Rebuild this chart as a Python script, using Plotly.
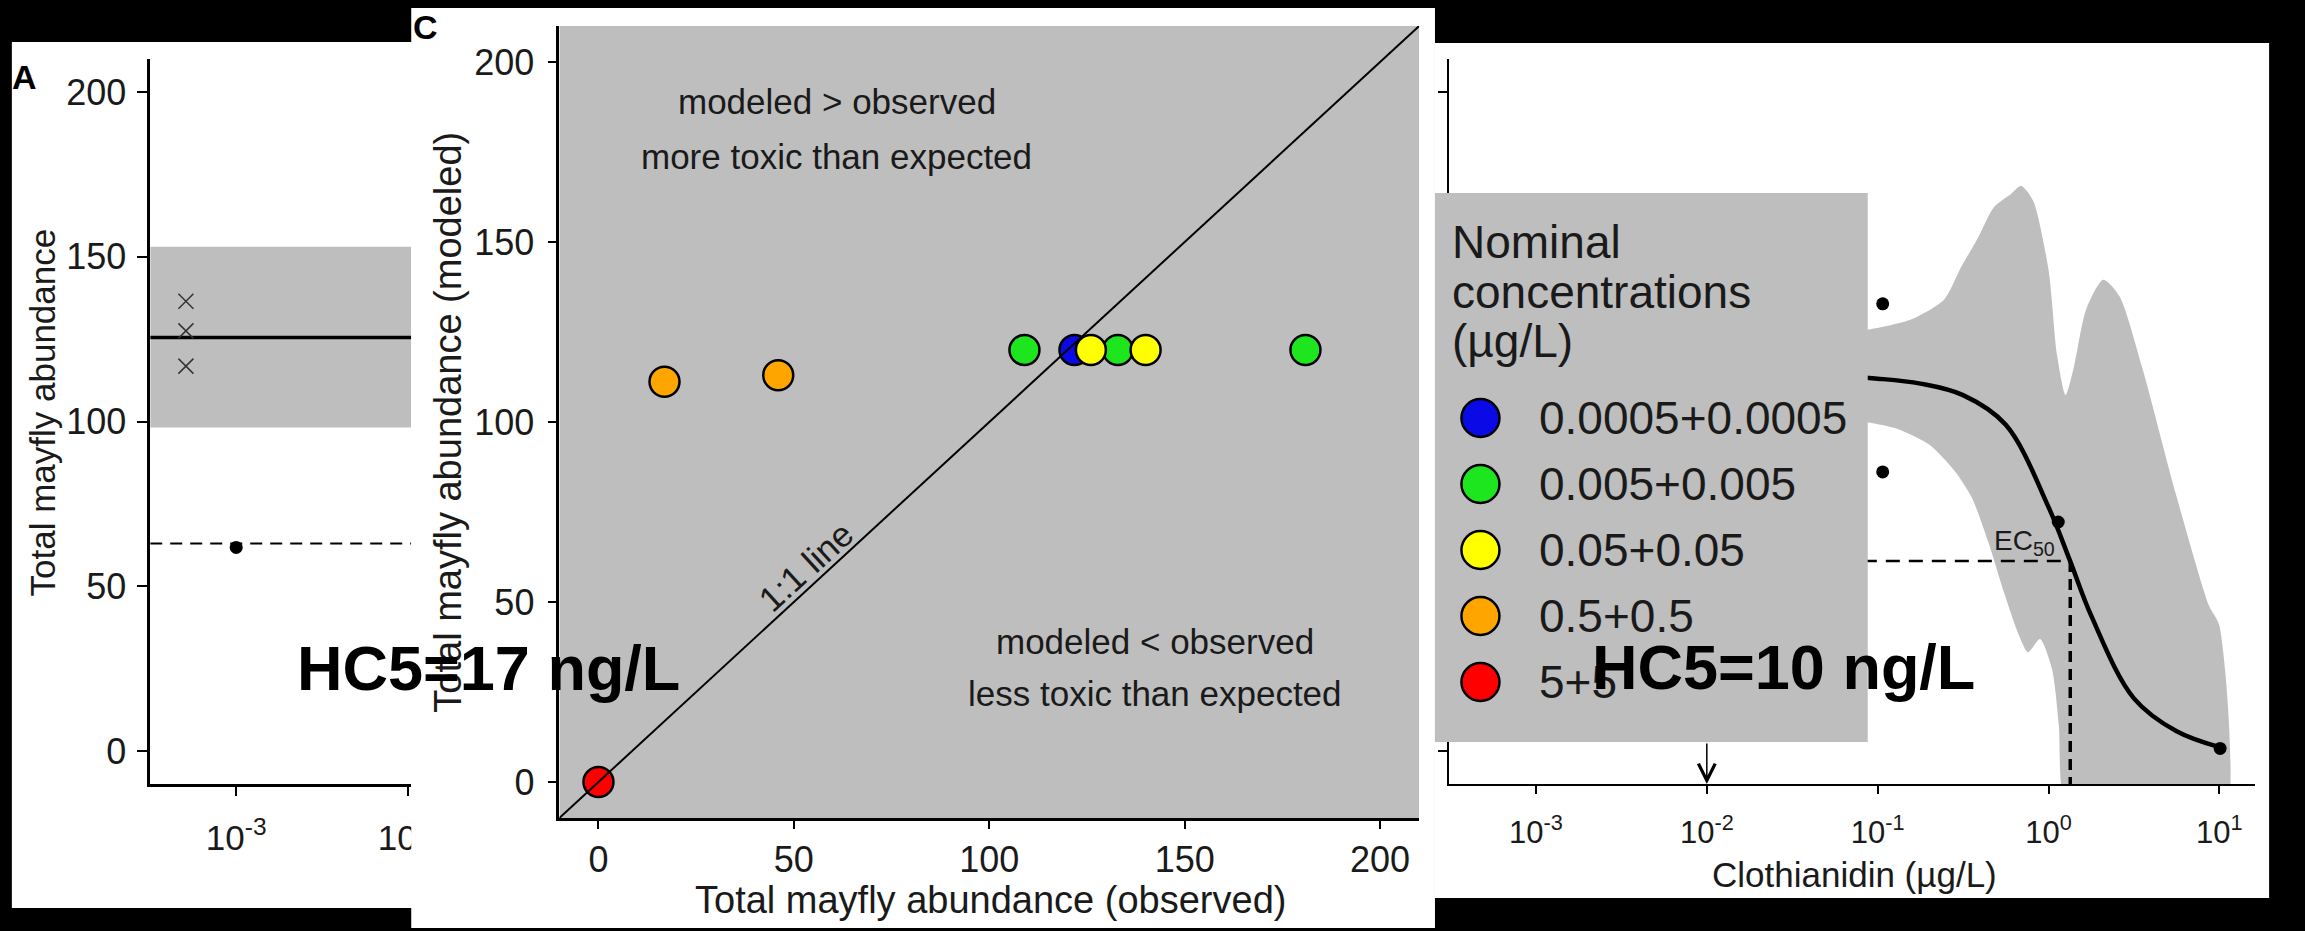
import plotly.graph_objects as go

W, H = 2305, 931
FONT = "Liberation Sans, Arial, Helvetica, sans-serif"
INK = "#1a1a1a"
GRAY = "#bebebe"

# ---------------- data ----------------
# Panel A (left, mostly hidden)
a_ctrl_x = [0.00051, 0.00051, 0.00051]
a_ctrl_y = [136.5, 127.5, 116.8]
a_ctrl_mean = 125.5
a_ctrl_lo = 98.2
a_ctrl_hi = 153.0
a_obs_x = [0.001]
a_obs_y = [61.8]
a_ec50_y = 63.0
a_tickvals = [0.001, 0.01]
a_ticktext = ["10<sup>-3</sup>", "10<sup>-2</sup>"]
y_ticks = [0, 50, 100, 150, 200]
y_range = [-10, 210]

# Panel C (observed vs modeled)
legend_labels = ["0.0005+0.0005", "0.005+0.005", "0.05+0.05", "0.5+0.5", "5+5"]
legend_colors = ["#0a0ae6", "#1ee61e", "#ffff00", "#ffa500", "#ff0000"]
obs_g1 = [121.8]
mod_g1 = [120.0]
obs_g2 = [109.0, 132.9, 180.9]
mod_g2 = [120.0, 120.0, 120.0]
obs_g3 = [126.0, 140.0]
mod_g3 = [120.0, 120.0]
obs_g4 = [16.9, 46.0]
mod_g4 = [111.2, 113.0]
obs_g5 = [0.0]
mod_g5 = [0.0]
c_ticks = [0, 50, 100, 150, 200]
c_range = [-10, 210]
one_to_one = [-10, 210]

# Panel B (clothianidin)
b_obs_x = [0.107, 0.107, 1.14, 10.1]
b_obs_y = [135.7, 84.7, 69.5, 0.8]
b_fit_x = [0.000316, 0.001, 0.00316, 0.01, 0.0316, 0.1, 0.178, 0.316, 0.562, 1.0, 1.33, 1.78, 3.16, 5.62, 10.0]
b_fit_y = [115, 115, 115, 114.8, 114.4, 113, 111.5, 108, 99, 74, 58, 41, 16, 6, 1.2]
b_up_x = [0.000316, 0.00316, 0.0316, 0.0813, 0.158, 0.245, 0.309, 0.389, 0.479, 0.603, 0.692, 0.813,
          1.0, 1.122, 1.259, 1.40, 1.66, 2.09, 2.60, 3.55, 5.56, 8.71, 10.0]
b_up_y = [124, 124, 125, 127.5, 131, 137, 147, 156, 165, 169, 171.5, 167,
          146, 120, 108, 116, 134, 143, 138, 116, 78, 44, 38]
b_lo_x = [0.000316, 0.00316, 0.0316, 0.0813, 0.126, 0.2, 0.282, 0.355, 0.447, 0.55, 0.661, 0.759,
          0.891, 1.047, 1.148, 1.23, 2.0, 10.0]
b_lo_y = [103, 103, 102.5, 100, 98, 93, 85, 77, 63, 48, 36, 30,
          34, 25, 8, -15, -30, -30]
b_ec50_x = 1.34
b_ec50_y = 57.7
b_hc5_x = 0.01
b_tickvals = [0.001, 0.01, 0.1, 1, 10]
b_ticktext = ["10<sup>-3</sup>", "10<sup>-2</sup>", "10<sup>-1</sup>", "10<sup>0</sup>", "10<sup>1</sup>"]

# ---------------- geometry (pixels) ----------------
def fx(px):
    return px / W

def fy(py):
    return 1 - py / H

A_X = (152, 416)
A_Y = (59, 784)
A_XR = [-3.5, -3 + (416 - 239) / 174]
CP = (416, 1452, 8, 928)          # white panel of C
C_X = (566, 1436)
C_Y = (26, 818)
B_X = (1466, 2282)
B_Y = (59, 784)
B_XR = [-3.51, 1.21]
LEG = (1452, 1890, 193, 742)
LEG_X0 = 1498                      # legend key centre
LEG_Y0 = 418                       # first key centre
LEG_DY = 66                        # spacing between keys

fig = go.Figure()

# ---------- Panel A ----------
ax_lo, ax_hi = 10 ** A_XR[0], 10 ** (A_XR[1] + 0.5)
fig.add_trace(go.Scatter(x=[ax_lo, ax_hi, ax_hi, ax_lo], y=[a_ctrl_lo, a_ctrl_lo, a_ctrl_hi, a_ctrl_hi],
                         fill="toself", fillcolor=GRAY, line=dict(width=0), mode="lines",
                         hoverinfo="skip", xaxis="x", yaxis="y"))
fig.add_trace(go.Scatter(x=[ax_lo, ax_hi], y=[a_ctrl_mean, a_ctrl_mean], mode="lines",
                         line=dict(color="black", width=3.5), xaxis="x", yaxis="y"))
fig.add_trace(go.Scatter(x=[ax_lo, ax_hi], y=[a_ec50_y, a_ec50_y], mode="lines",
                         line=dict(color="black", width=2, dash="12px,8px"), xaxis="x", yaxis="y"))
fig.add_trace(go.Scatter(x=a_ctrl_x, y=a_ctrl_y, mode="markers",
                         marker=dict(symbol="x-thin", size=15, line=dict(color="#333333", width=1.5)),
                         xaxis="x", yaxis="y"))
fig.add_trace(go.Scatter(x=a_obs_x, y=a_obs_y, mode="markers",
                         marker=dict(color="black", size=13), xaxis="x", yaxis="y"))
# x title of panel A (only its first letter shows beside panel C)
a_title_x = 10 ** (-3 + (401 - 239) / 174)
a_title_y = (751 - 874) / ((784 - 59) / 220)
fig.add_trace(go.Scatter(x=[a_title_x], y=[a_title_y], mode="text", text=["Imidacloprid (µg/L)"],
                         textposition="middle right", cliponaxis=False,
                         textfont=dict(family=FONT, size=36, color=INK), xaxis="x", yaxis="y"))

# ---------- dummy subplot: white panel of C (covers A) ----------
fig.add_trace(go.Scatter(x=[0.5], y=[0.5], mode="markers", marker=dict(opacity=0),
                         hoverinfo="skip", xaxis="x2", yaxis="y2"))

# ---------- Panel C ----------
groups = [(obs_g1, mod_g1), (obs_g2, mod_g2), (obs_g3, mod_g3), (obs_g4, mod_g4), (obs_g5, mod_g5)]
for (o, m), col in zip(groups, legend_colors):
    fig.add_trace(go.Scatter(x=o, y=m, mode="markers",
                             marker=dict(color=col, size=30, line=dict(color="black", width=2.5)),
                             xaxis="x3", yaxis="y3"))
fig.add_trace(go.Scatter(x=one_to_one, y=one_to_one, mode="lines",
                         line=dict(color="black", width=2), xaxis="x3", yaxis="y3"))

# ---------- Panel B ----------
fig.add_trace(go.Scatter(x=b_up_x + b_lo_x[::-1], y=b_up_y + b_lo_y[::-1], fill="toself",
                         fillcolor=GRAY, line=dict(width=0, shape="spline", smoothing=0.7),
                         mode="lines", hoverinfo="skip", xaxis="x4", yaxis="y4"))
fig.add_trace(go.Scatter(x=[10 ** B_XR[0], b_ec50_x], y=[b_ec50_y, b_ec50_y], mode="lines",
                         line=dict(color="black", width=2.5, dash="14px,9px"), xaxis="x4", yaxis="y4"))
fig.add_trace(go.Scatter(x=[b_ec50_x, b_ec50_x], y=[b_ec50_y, y_range[0]], mode="lines",
                         line=dict(color="black", width=3.5, dash="11px,7px"), xaxis="x4", yaxis="y4"))
fig.add_trace(go.Scatter(x=b_fit_x, y=b_fit_y, mode="lines",
                         line=dict(color="black", width=4.5, shape="spline", smoothing=1.0),
                         xaxis="x4", yaxis="y4"))
fig.add_trace(go.Scatter(x=b_obs_x, y=b_obs_y, mode="markers",
                         marker=dict(color="black", size=13), xaxis="x4", yaxis="y4"))

# ---------- legend subplot ----------
fig.add_trace(go.Scatter(x=[0] * len(legend_labels), y=list(range(len(legend_labels))), mode="markers",
                         marker=dict(color=legend_colors, size=38, line=dict(color="black", width=2.5)),
                         xaxis="x5", yaxis="y5"))

for tr in fig.data:
    tr.showlegend = False

# ---------------- axes ----------------
axis_common = dict(showgrid=False, zeroline=False, showline=True, linecolor="black",
                   ticks="outside", tickcolor="black", fixedrange=True)
hidden = dict(visible=False, showgrid=False, zeroline=False, fixedrange=True)

leg_y_top = (LEG[2] - LEG_Y0) / LEG_DY
leg_y_bot = (LEG[3] - LEG_Y0) / LEG_DY
leg_x_rng = [LEG[0] - LEG_X0, LEG[1] - LEG_X0]

fig.update_layout(
    xaxis=dict(axis_common, domain=[fx(A_X[0]), fx(A_X[1])], type="log", range=A_XR, anchor="y",
               tickvals=a_tickvals, ticktext=a_ticktext, linewidth=2.5, tickwidth=2, ticklen=9,
               ticklabelstandoff=12, tickfont=dict(family=FONT, size=35, color=INK)),
    yaxis=dict(axis_common, domain=[fy(A_Y[1]), fy(A_Y[0])], range=y_range, anchor="x",
               tickvals=y_ticks, linewidth=2.5, tickwidth=2, ticklen=10, ticklabelstandoff=4,
               tickfont=dict(family=FONT, size=36, color=INK)),
    xaxis2=dict(hidden, domain=[fx(CP[0]), fx(CP[1])], range=[0, 1], anchor="y2"),
    yaxis2=dict(hidden, domain=[fy(CP[3]), fy(CP[2])], range=[0, 1], anchor="x2"),
    xaxis3=dict(axis_common, domain=[fx(C_X[0]), fx(C_X[1])], range=c_range, anchor="y3",
                tickvals=c_ticks, linewidth=2.5, tickwidth=2, ticklen=8,
                tickfont=dict(family=FONT, size=36, color=INK)),
    yaxis3=dict(axis_common, domain=[fy(C_Y[1]), fy(C_Y[0])], range=c_range, anchor="x3",
                tickvals=c_ticks, linewidth=2.5, tickwidth=2, ticklen=9, ticklabelstandoff=6,
                tickfont=dict(family=FONT, size=36, color=INK)),
    xaxis4=dict(axis_common, domain=[fx(B_X[0]), fx(B_X[1])], type="log", range=B_XR, anchor="y4",
                tickvals=b_tickvals, ticktext=b_ticktext, linewidth=2, tickwidth=2, ticklen=8,
                ticklabelstandoff=12, tickfont=dict(family=FONT, size=31, color=INK)),
    yaxis4=dict(axis_common, domain=[fy(B_Y[1]), fy(B_Y[0])], range=y_range, anchor="x4",
                tickvals=y_ticks, showticklabels=False, linewidth=2, tickwidth=2, ticklen=9),
    xaxis5=dict(hidden, domain=[fx(LEG[0]), fx(LEG[1])], range=leg_x_rng, anchor="y5"),
    yaxis5=dict(hidden, domain=[fy(LEG[3]), fy(LEG[2])], range=[leg_y_bot, leg_y_top], anchor="x5"),
)

# ---------------- shapes ----------------
shapes = [
    dict(type="rect", xref="paper", yref="paper", x0=fx(12), x1=fx(417), y0=fy(908), y1=fy(42),
         fillcolor="white", line=dict(width=0), layer="below"),
    dict(type="rect", xref="paper", yref="paper", x0=fx(1452), x1=fx(2296), y0=fy(898), y1=fy(43),
         fillcolor="white", line=dict(width=0), layer="below"),
    dict(type="rect", xref="x2", yref="y2", x0=0, x1=1, y0=0, y1=1,
         fillcolor="white", line=dict(width=0), layer="below"),
    dict(type="rect", xref="x3", yref="y3", x0=c_range[0], x1=c_range[1], y0=c_range[0], y1=c_range[1],
         fillcolor=GRAY, line=dict(width=0), layer="below"),
    dict(type="rect", xref="x5", yref="y5", x0=leg_x_rng[0], x1=leg_x_rng[1], y0=leg_y_bot, y1=leg_y_top,
         fillcolor=GRAY, line=dict(width=0), layer="below"),
]

# ---------------- annotations ----------------
def ann(text, px, py, size, color=INK, **kw):
    d = dict(text=text, x=fx(px), y=fy(py), xref="paper", yref="paper", showarrow=False,
             xanchor="center", yanchor="middle",
             font=dict(family=FONT, size=size, color=color))
    d.update(kw)
    return d

def cann(text, x, y, size, **kw):
    d = dict(text=text, x=x, y=y, xref="x3", yref="y3", showarrow=False,
             xanchor="center", yanchor="middle", font=dict(family=FONT, size=size, color=INK))
    d.update(kw)
    return d

annotations = [
    ann("<b>A</b>", 25, 77, 34, color="black"),
    ann("<b>C</b>", 431, 27, 34, color="black"),
    ann("Total mayfly abundance", 43, 412, 35, textangle=-90),
    ann("Total mayfly abundance (modeled)", 453, 422, 38, textangle=-90),
    ann("Total mayfly abundance (observed)", 1002, 900, 38),
    ann("Clothianidin (µg/L)", 1876, 874, 35),
    ann("EC<sub>50</sub>", 2048, 542, 28),
    cann("modeled > observed", 61.0, 189, 35),
    cann("more toxic than expected", 61.0, 173.7, 35),
    cann("modeled < observed", 142.5, 39, 35),
    cann("less toxic than expected", 142.5, 24.7, 35),
    cann("1:1 line", 53.0, 60.0, 35, textangle=-42.3),
    # HC5 arrow on B
    dict(text="", x=-2, y=y_range[0], xref="x4", yref="y4", showarrow=True, ax=0, ay=-42,
         arrowhead=5, arrowsize=2.2, arrowwidth=1.5, arrowcolor="black"),
]
# legend title and labels
for line, py in zip(["Nominal", "concentrations", "(µg/L)"], [242, 292, 341]):
    annotations.append(dict(text=line, x=1467 - LEG_X0, y=(py - LEG_Y0) / LEG_DY,
                            xref="x5", yref="y5", xanchor="left", yanchor="middle", showarrow=False,
                            font=dict(family=FONT, size=46, color=INK)))
for i, lab in enumerate(legend_labels):
    annotations.append(dict(text=lab, x=1555 - LEG_X0, y=i, xref="x5", yref="y5", xanchor="left",
                            yanchor="middle", showarrow=False, font=dict(family=FONT, size=46, color=INK)))
# overlaid HC5 labels
annotations.append(ann("<b>HC5=17 ng/L</b>", 494, 668, 63, color="black"))
annotations.append(ann("<b>HC5=10 ng/L</b>", 1805, 667, 63, color="black"))

fig.update_layout(
    width=W, height=H, margin=dict(l=0, r=0, t=0, b=0),
    paper_bgcolor="black", plot_bgcolor="rgba(0,0,0,0)",
    showlegend=False, shapes=shapes, annotations=annotations,
    font=dict(family=FONT, color=INK),
)

fig.write_html("out.html")
